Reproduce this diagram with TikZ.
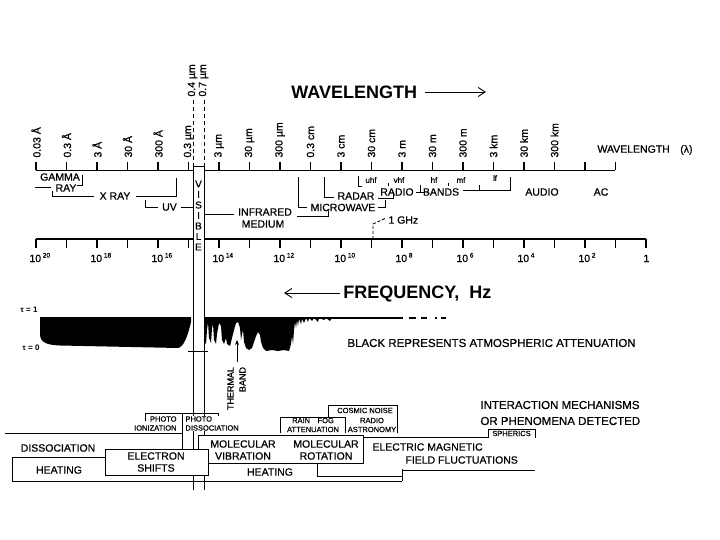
\documentclass[tikz,border=0pt]{standalone}
\usepackage{fontspec}
\setmainfont{Liberation Sans}[UprightFeatures={FakeBold=0.6}]
\usetikzlibrary{arrows.meta}
\begin{document}
\begin{tikzpicture}[x=1pt,y=-1pt,line width=0.9pt,
  axisline/.style={line width=1.2pt},
  lbl/.style={font=\fontsize{10.5}{12}\selectfont, inner sep=0pt},
  sml/.style={font=\fontsize{7.5}{9}\selectfont, inner sep=0pt},
  wlab/.style={rotate=90, anchor=west, font=\fontsize{10.5}{12}\selectfont, inner sep=0pt},
  flab/.style={anchor=base west, font=\fontsize{10.5}{12}\selectfont, inner sep=0pt},
  hdr/.style={font=\bfseries\fontsize{18}{20}\selectfont, inner sep=0pt},
  boxfill/.style={fill=white}]
\fill[white] (0,0) rectangle (720,540);
\useasboundingbox (0,0) rectangle (720,540);

% ---------- wavelength header
\node[hdr, anchor=west] (wlhead) at (291,92) {WAVELENGTH};
\coordinate (wa1) at (425,92);
\coordinate (wa2) at (486,92);
\draw[-{Straight Barb[length=7pt,width=9pt]}] (wa1) -- (wa2);

% ---------- wavelength axis
\draw[axisline] (36,170.5) -- (615,170.5);
\foreach \i in {0,...,19} \draw[axisline] ({36+30.5*\i},170.5) -- ++(0,-8);
\foreach \i/\t in {0/0.03 Å,1/0.3 Å,2/3 Å,3/30 Å,4/300 Å,5/0.3 µm,6/3 µm,7/30 µm,8/300 µm,9/0.3 cm,10/3 cm,11/30 cm,12/3 m,13/30 m,14/300 m,15/3 km,16/30 km,17/300 km}
  \node[wlab] (wl\i) at ({36+30.5*\i},158) {\t};
\node[lbl, anchor=west] (wlright) at (597,150) {WAVELENGTH\quad(λ)};

% visible limits
\node[wlab] (v04) at (192.5,97) {0.4 µm};
\node[wlab] (v07) at (203.5,97) {0.7 µm};
\draw[dashed,dash pattern=on 4pt off 3pt] (193,100) -- (193,166);
\draw[dashed,dash pattern=on 4pt off 3pt] (204,100) -- (204,166);

% ---------- band labels
\node[lbl] (gamma) at (60,177) {GAMMA};
\node[lbl] (ray) at (66,188) {RAY};
\draw (77,185) -- (82,185) -- (82,175);
\draw (35,187) -- (51,187);
\node[lbl] (xray) at (115,196) {X RAY};
\draw (52,191) -- (52,196) -- (94,196);
\draw (136,196) -- (176,196) -- (176,178);
\node[lbl] (uv) at (169.5,207) {UV};
\draw (145,200) -- (145,207) -- (158,207);
\draw (181,207) -- (193,207);
\draw (204,214) -- (234,214);
\node[lbl] (infra) at (265,212) {INFRARED};
\node[lbl] (medium) at (263,224) {MEDIUM};
\draw (297,216) -- (328,216) -- (328,211);
\node[lbl] (micro) at (343,207.5) {MICROWAVE};
\draw (298,177) -- (298,207) -- (307,207);
\draw (378,207.5) -- (385,207.5) -- (385,200);
\node[lbl] (radar) at (356,196) {RADAR};
\draw (324,177) -- (324,197) -- (334,197);
\draw (378,198) -- (393,198) -- (393,192);
\node[lbl] (radio) at (397,192) {RADIO};
\node[lbl] (bands) at (441,192) {BANDS};
\draw (358,176) -- (358,186) -- (362,186);
\node[sml, font=\fontsize{8}{9}\selectfont] (uhf) at (371,180) {uhf};
\node[sml, font=\fontsize{8}{9}\selectfont] (vhf) at (399,180) {vhf};
\node[sml, font=\fontsize{8}{9}\selectfont] (hf) at (434,180) {hf};
\node[sml, font=\fontsize{8}{9}\selectfont] (mf) at (461,180) {mf};
\node[sml, font=\fontsize{8}{9}\selectfont] (lf) at (495,178) {lf};
\draw[line width=0.6pt] (388,183) -- (388,186);
\draw[line width=0.6pt] (448,183) -- (448,186);
\draw (420,185) -- (420,192) (416,192) -- (424,192);
\draw (463,190) -- (510,190) -- (510,177);
\draw (479,185) -- (479,190);
\node[lbl] (audio) at (542,192) {AUDIO};
\node[lbl] (ac) at (601,192) {AC};

% 1 GHz
\coordinate (g1) at (373,239);
\coordinate (g2) at (373,224);
\coordinate (g3) at (386,218);
\draw[dashed,dash pattern=on 3pt off 2pt] (g1) -- (g2) -- (g3);
\node[lbl, anchor=west] (ghz) at (388,220) {1 GHz};

% ---------- frequency axis
\draw[axisline] (36,239) -- (646,239);
\foreach \i in {0,...,20} \draw[axisline] ({36+30.5*\i},239) -- ++(0,9);
\foreach \i/\e in {0/20,2/18,4/16,6/14,8/12,10/10,12/8,14/6,16/4,18/2}
  \node[flab] (fl\i) at ({36+30.5*\i-7},262) {10\,\raisebox{4.5pt}{\fontsize{6.5}{7}\selectfont\e}};
\node[flab] (fl20) at (643,262) {1};

% ---------- visible strip
\fill[white] (193,166) rectangle (204,300);
\draw (193,490) -- (193,166) -- (204,166) -- (204,490);
\foreach \c [count=\k from 0] in {V,I,S,I,B,L,E}
  \node[lbl, font=\fontsize{10}{12}\selectfont] (vis\k) at (198.5,{184+10.5*\k}) {\c};

% ---------- frequency header
\node[hdr, anchor=west] (fqhead) at (343,294) {FREQUENCY,\ \ Hz};
\coordinate (fa1) at (340,293);
\coordinate (fa2) at (284,293);
\draw[-{Straight Barb[length=7pt,width=9pt]}] (fa1) -- (fa2);

% ---------- attenuation
\node[sml, font=\bfseries\fontsize{8}{9}\selectfont] (tau1) at (29,310) {τ = 1};
\node[sml, font=\bfseries\fontsize{8}{9}\selectfont] (tau0) at (31,348) {τ = 0};
\fill (40,318) -- (40,334) .. controls (40,342) and (46,345) .. (60,345.5) -- (178,348)
  .. controls (184,347) and (188,335) .. (191,322) -- (191,318) -- cycle;
\fill (204,318) -- (204,342) -- (206,344) -- (207,330) -- (208,322) -- (209,338) -- (211,343)
  -- (212,328) -- (213,324) -- (214,340) -- (216,344) -- (217,334) -- (219,323) -- (221,326)
  -- (222,340) -- (224,344) -- (226,338) -- (227,344) -- (230,346) -- (232,338) -- (234,330)
  -- (236,323) -- (238,322) -- (240,328) -- (241,340) -- (242,334) -- (243,330) -- (244,342)
  -- (246,348) -- (249,350) -- (252,348) -- (254,342) -- (256,336) -- (258,332) -- (260,335)
  -- (261,342) -- (263,348) -- (266,351) -- (272,350) -- (278,351) -- (284,350) -- (289,351)
  -- (291,344) -- (292,336) -- (293,344) -- (294,330) -- (295,322) -- (296,328) -- (297,320)
  -- (298,326) -- (299,319) -- (301,324) -- (302,319) -- (304,323) -- (306,318) -- (308,322)
  -- (309,318) -- (312,321) -- (314,318) -- (318,322) -- (319,318) -- (324,320) -- (326,318)
  -- (330,321) -- (332,318) -- cycle;
\draw[line width=1.6pt] (40,318) -- (191,318) (204,318) -- (340,318);
\draw[line width=1.2pt] (340,318) -- (403,318) (409,318) -- (416,318) (421,318) -- (427,318)
  (435,318) -- (437,318) (441,318) -- (446,318);
\draw (188,351) -- (208,351);
\node[lbl, font=\fontsize{11.5}{13}\selectfont, anchor=west] (black) at (347,343)
  {BLACK REPRESENTS ATMOSPHERIC ATTENUATION};

% thermal band
\coordinate (tb1) at (237,362);
\coordinate (tb2) at (237,340);
\draw[-{Stealth[length=5pt,width=4pt]}] (tb1) -- (tb2);
\node[rotate=90, align=right, font=\fontsize{9}{12}\selectfont, inner sep=0pt] (thermal) at (236.5,388.5) {THERMAL\\BAND};

% ---------- interaction mechanisms
\node[lbl, font=\fontsize{11.5}{13}\selectfont, anchor=west] (im1) at (480,405) {INTERACTION MECHANISMS};
\node[lbl, font=\fontsize{11.5}{13}\selectfont, anchor=west] (im2) at (480,421) {OR PHENOMENA DETECTED};

% cosmic noise / radio astronomy
\draw (328,417) -- (328,405) -- (397,405) -- (397,433);
\node[sml] (cosmic) at (365,410.5) {COSMIC NOISE};
\node[sml, align=center] (radast) at (372,425) {RADIO\\ASTRONOMY};
% rain fog
\draw[boxfill] (280,433) -- (280,417) -- (345,417) -- (345,433);
\node[sml, align=center] (rain) at (313,425) {RAIN\quad FOG\\ATTENUATION};

% photo boxes
\draw (145,421) -- (145,413) -- (182,413);
\node[sml, align=right, anchor=east] (photoion) at (177,423.5) {PHOTO\\IONIZATION};
\draw (182,449) -- (182,413) -- (218,413) -- (218,420);
\node[sml, align=left, anchor=west, fill=white] (photodis) at (185,423.5) {PHOTO\\DISSOCIATION};

% dissociation / heating
\draw (5,433) -- (182,433);
\node[lbl] (dissoc) at (58,448) {DISSOCIATION};
\draw (12,481) -- (12,457) -- (105,457);
\draw (12,481) -- (402,481);
\node[lbl] (heat1) at (59,470) {HEATING};

% molecular box
\draw[boxfill] (198,435) rectangle (363,463);
\node[lbl, align=center] (molvib) at (243,450) {MOLECULAR\\VIBRATION};
\node[lbl, align=center] (molrot) at (326,450) {MOLECULAR\\ROTATION};
\node[lbl] (heat2) at (270,472) {HEATING};
\draw (317,463) -- (317,476) -- (402,476);
\draw (402,469) -- (402,481);

% electron shifts
\draw[boxfill] (105,449) rectangle (208,475);
\node[lbl, align=center] (eshift) at (156,462) {ELECTRON\\SHIFTS};

% electric magnetic
\draw (363,437) -- (488,437);
\draw (488,438) -- (488,429) -- (535,429) -- (535,438);
\node[sml] (spher) at (511.5,433.5) {SPHERICS};
\node[lbl, anchor=west] (em1) at (372,447) {ELECTRIC MAGNETIC};
\node[lbl, anchor=west] (em2) at (405,460) {FIELD FLUCTUATIONS};
\draw (402,470) -- (535,470);
\end{tikzpicture}
\end{document}
